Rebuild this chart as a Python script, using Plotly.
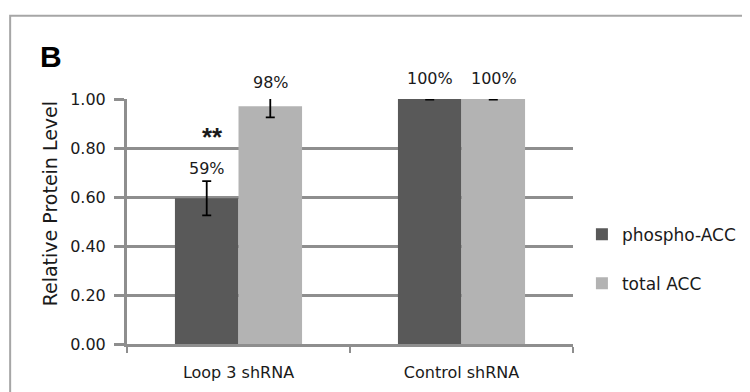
import plotly.graph_objects as go

categories = ["Loop 3 shRNA", "Control shRNA"]
phospho = [0.595, 1.00]
phospho_err = [0.07, 0.002]
total = [0.97, 1.00]
total_err = [0.045, 0.002]
phospho_labels = ["59%", "100%"]
total_labels = ["98%", "100%"]
yticks = [0.0, 0.2, 0.4, 0.6, 0.8, 1.0]

FONT = "DejaVu Sans"
TXT = "#1a1a1a"
GRID = "#8e8e8e"

fig = go.Figure()
fig.add_trace(go.Bar(
    x=categories, y=phospho, name="phospho-ACC",
    marker=dict(color="#595959", line=dict(width=0)),
    error_y=dict(type="data", array=phospho_err, color="black", thickness=1.8, width=4.5),
    cliponaxis=False, legendgroup="a",
))
fig.add_trace(go.Bar(
    x=categories, y=total, name="total ACC",
    marker=dict(color="#b3b3b3", line=dict(width=0)),
    error_y=dict(type="data", array=total_err, color="black", thickness=1.8, width=4.5),
    cliponaxis=False, legendgroup="b",
))

# y axis range is [0, 1], so paper y equals data y on this figure
annotations = []
for i, c in enumerate(categories):
    for vals, errs, labs, shift in ((phospho, phospho_err, phospho_labels, -32),
                                    (total, total_err, total_labels, 32)):
        top = vals[i] + errs[i]
        annotations.append(dict(
            x=c, y=top, xref="x", yref="paper", text=labs[i], showarrow=False,
            xshift=shift, xanchor="center", yanchor="bottom",
            yshift=1 if errs[i] > 0.01 else 9,
            font=dict(family=FONT, size=16, color=TXT),
        ))
annotations.append(dict(
    x=categories[0], y=0.845, xref="x", yref="paper", text="<b>**</b>", showarrow=False,
    xshift=-26, xanchor="center", yanchor="middle",
    font=dict(family="Liberation Sans", size=26, color=TXT),
))
annotations.append(dict(
    x=-0.171, y=1.175, xref="paper", yref="paper", text="<b>B</b>", showarrow=False,
    xanchor="center", yanchor="middle",
    font=dict(family="Liberation Sans", size=30, color="black"),
))
annotations.append(dict(
    x=-0.1726, y=0.57, xref="paper", yref="paper", text="Relative Protein Level",
    showarrow=False, textangle=-90, xanchor="center", yanchor="middle",
    font=dict(family=FONT, size=19, color=TXT),
))

fig.update_layout(
    width=742, height=384,
    margin=dict(l=119, r=177, t=90.5, b=48, autoexpand=False),
    paper_bgcolor="white", plot_bgcolor="white",
    barmode="group", bargap=0.43, bargroupgap=0,
    font=dict(family=FONT, size=16, color=TXT),
    showlegend=True,
    legend=dict(x=1.02, xanchor="left", y=0.52, yanchor="top",
                font=dict(family=FONT, size=17, color=TXT),
                tracegroupgap=24, bgcolor="rgba(0,0,0,0)"),
    annotations=annotations,
    shapes=[dict(type="rect", xref="paper", yref="paper",
                 x0=-0.262, x1=2.0, y0=-1.0, y1=1.34,
                 line=dict(color="#a6a6a6", width=2), fillcolor="rgba(0,0,0,0)", layer="below")],
    xaxis=dict(
        type="category", showgrid=False, showline=True, linecolor=GRID, linewidth=3,
        ticks="outside", tickson="boundaries", ticklen=6, tickwidth=2, tickcolor=GRID,
        ticklabelstandoff=12,
        tickfont=dict(family=FONT, size=16, color=TXT), automargin=False,
    ),
    yaxis=dict(
        range=[0, 1.0], tickvals=yticks, tickformat=".2f",
        showgrid=True, gridcolor=GRID, gridwidth=3,
        showline=True, linecolor=GRID, linewidth=3,
        ticks="outside", ticklen=10, tickwidth=3, tickcolor=GRID,
        ticklabelstandoff=5,
        zeroline=False, automargin=False,
        tickfont=dict(family=FONT, size=16, color=TXT),
    ),
)

fig.write_html("out.html")
